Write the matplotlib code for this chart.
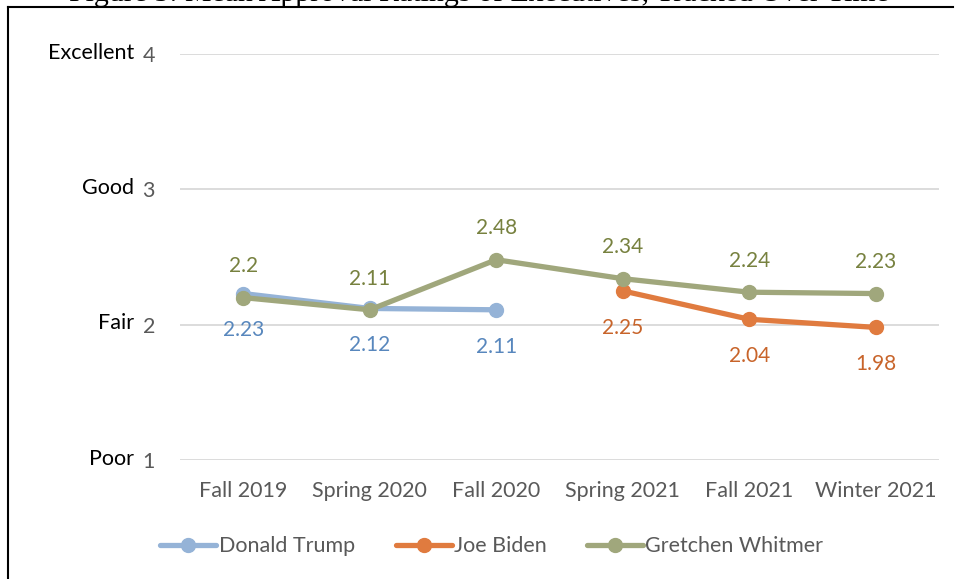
import matplotlib
matplotlib.use("Agg")
import matplotlib.pyplot as plt
from matplotlib.lines import Line2D
import numpy as np

plt.rcParams["font.family"] = ["Lato", "DejaVu Sans"]

terms = ["Fall 2019", "Spring 2020", "Fall 2020", "Spring 2021", "Fall 2021", "Winter 2021"]
trump = [2.23, 2.12, 2.11, None, None, None]
biden = [None, None, None, 2.25, 2.04, 1.98]
whitmer = [2.2, 2.11, 2.48, 2.34, 2.24, 2.23]
rating_ticks = [1, 2, 3, 4]
rating_names = ["Poor", "Fair", "Good", "Excellent"]

# name, values, line colour, label colour, label offset (pt)
series = [
    ("Donald Trump", trump, "#95b3d7", "#5887bd", -26.5),
    ("Joe Biden", biden, "#e07b3f", "#c8642a", -26.5),
    ("Gretchen Whitmer", whitmer, "#a0a77c", "#77813f", 22.5),
]

fig = plt.figure(figsize=(9.58, 5.79), dpi=100)
ax = fig.add_axes([0.188, 0.2055, 0.792, 0.7012])

x = np.arange(len(terms))
for name, vals, color, lab_color, dy in series:
    pts = [(i, v) for i, v in zip(x, vals) if v is not None]
    xs = [p[0] for p in pts]
    ys = [p[1] for p in pts]
    ax.plot(xs, ys, color=color, lw=3.8, marker="o", ms=10,
            solid_capstyle="round", label=name, zorder=3)
    for xi, yi in pts:
        ax.annotate(f"{yi:g}", (xi, yi), textcoords="offset points",
                    xytext=(0, dy), ha="center", va="center",
                    fontsize=15, color=lab_color)

ax.set_xlim(-0.5, len(terms) - 0.5)
ax.set_ylim(1, 4)
ax.set_xticks(x)
ax.set_xticklabels(terms, fontsize=15.5, color="#595959")
ax.set_yticks(rating_ticks)
ax.set_yticklabels([str(t) for t in rating_ticks], fontsize=15.5, color="#595959")
ax.tick_params(length=0, axis="x", pad=15)
ax.tick_params(length=0, axis="y", pad=18)
ax.grid(axis="y", color="#d9d9d9", lw=1.3)
ax.set_axisbelow(True)
for s in ax.spines.values():
    s.set_visible(False)

# rating words beside the numeric ticks
for t, word in zip(rating_ticks, rating_names):
    ax.annotate(word, (0, t), xycoords=("axes fraction", "data"),
                textcoords="offset points", xytext=(-33, 1),
                ha="right", va="center", fontsize=15.5, color="black")

ax.legend(loc="upper center", bbox_to_anchor=(0.411, -0.140), ncol=3,
          frameon=False, fontsize=15.5, labelcolor="#595959",
          handlelength=2.6, handletextpad=0.1, columnspacing=1.9)

# caption sitting above the frame
fig.text(0.5, 1.011, "Figure 5: Mean Approval Ratings of Executives, Tracked Over Time",
         ha="center", va="center", fontsize=21.5, family="Liberation Serif")

fig.add_artist(Line2D([8 / 958, 8 / 958], [0, 1 - 7 / 579], color="black", lw=1.5,
                      transform=fig.transFigure))
fig.add_artist(Line2D([8 / 958, 953 / 958], [1 - 7 / 579, 1 - 7 / 579], color="black",
                      lw=1.5, transform=fig.transFigure))

fig.savefig("out.png", dpi=100)
